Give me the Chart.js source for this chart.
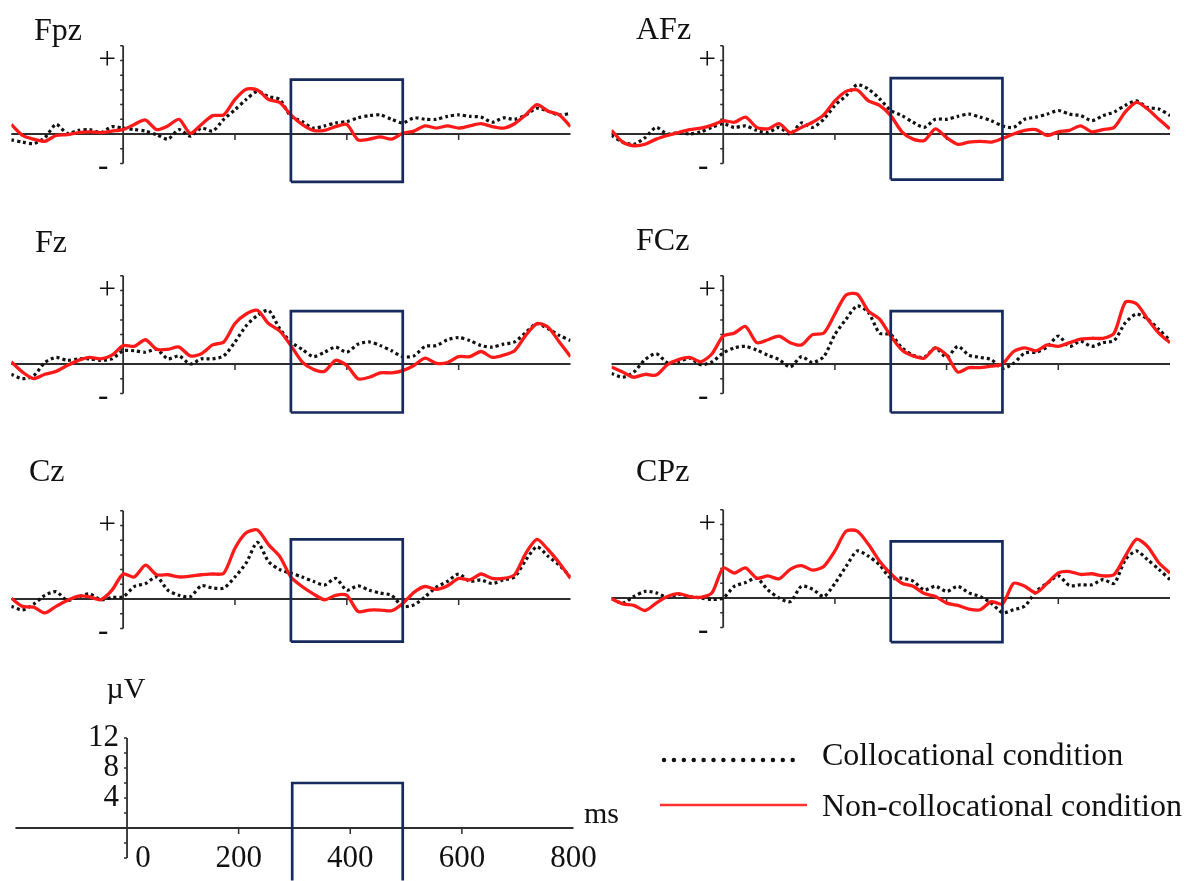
<!DOCTYPE html>
<html lang="en">
<head>
<meta charset="UTF-8">
<title>ERP waveforms</title>
<script src="https://cdn.jsdelivr.net/npm/chart.js@4"></script>
<style>
  body { margin: 0; background: #fff; }
  #page { position: relative; width: 1186px; height: 881px; overflow: hidden; }
  #page canvas { position: absolute; }
</style>
</head>
<body>
<div id="page"></div>
<script>
// time points in ms
const times = [-200, -180, -160, -140, -120, -100, -80, -60, -40, -20,
  0, 20, 40, 60, 80, 100, 120, 140, 160, 180,
  200, 220, 240, 260, 280, 300, 320, 340, 360, 380,
  400, 420, 440, 460, 480, 500, 520, 540, 560, 580,
  600, 620, 640, 660, 680, 700, 720, 740, 760, 780, 800];

// amplitudes in µV
const fpzColl = [-0.8, -1.1, -1.3, -0.5, 1.3, 0.1, 0.5, 0.6, 0.2, 1.0,
  0.8, 0.6, 0.4, -0.1, -0.7, 0.6, -0.3, 0.8, 0.4, 2.0,
  3.3, 4.7, 5.8, 5.1, 4.7, 2.4, 1.7, 0.8, 1.1, 1.5,
  1.7, 2.2, 2.5, 2.6, 2.0, 1.5, 2.2, 2.0, 2.0, 2.4,
  2.6, 2.4, 2.3, 1.6, 2.2, 2.0, 2.6, 3.5, 3.1, 2.6, 2.8];
const fpzNon = [1.3, -0.2, -0.7, -1.0, -0.2, -0.1, 0.2, 0.3, 0.2, 0.4,
  0.6, 1.3, 1.9, 0.6, 1.1, 2.0, 0.1, 1.3, 2.5, 2.6,
  4.7, 6.1, 6.0, 4.7, 4.3, 2.6, 1.3, 0.5, 0.5, 1.0,
  1.3, -0.8, -0.7, -0.4, -0.7, 0.1, 0.4, 1.1, 0.8, 1.1,
  0.8, 1.1, 1.4, 1.0, 0.8, 1.4, 2.6, 4.0, 3.1, 2.6, 1.0];

const afzColl = [-0.2, -1.1, -1.4, -0.5, 0.9, 0.0, 0.2, 0.0, 0.3, 0.9,
  1.4, 0.9, 1.1, 0.5, 0.2, 0.9, 0.0, 1.5, 0.9, 2.0,
  3.9, 5.2, 6.7, 6.1, 4.8, 3.2, 2.5, 1.6, 0.9, 2.0,
  2.0, 2.4, 2.7, 2.3, 1.8, 1.1, 0.9, 2.0, 2.3, 2.7,
  3.2, 2.7, 2.5, 1.8, 2.5, 3.0, 3.9, 4.5, 3.6, 3.4, 2.5];
const afzNon = [0.5, -1.1, -1.6, -1.4, -0.7, -0.2, 0.2, 0.6, 0.8, 1.2,
  1.8, 1.6, 2.3, 0.9, 0.7, 1.4, 0.2, 0.9, 1.6, 2.6,
  4.5, 5.8, 6.0, 4.5, 3.9, 2.5, 0.3, -0.7, -0.9, 0.7,
  -0.5, -1.4, -1.1, -1.0, -1.1, -0.6, 0.0, 0.5, 0.6, -0.2,
  0.3, 0.5, 1.1, 0.3, 0.6, 0.9, 3.0, 4.3, 3.4, 2.0, 0.7];

const fzColl = [-1.4, -2.0, -1.6, 0.2, 0.9, 0.5, 0.7, 0.7, 0.5, 0.7,
  1.8, 1.8, 1.6, 2.0, 0.7, 1.1, 0.0, 0.7, 0.7, 1.1,
  3.0, 5.2, 6.6, 7.3, 4.8, 3.0, 2.0, 1.0, 1.6, 2.3,
  1.6, 2.7, 3.0, 2.5, 1.8, 1.0, 1.1, 2.4, 2.5, 3.3,
  3.6, 3.2, 2.5, 2.3, 2.7, 3.0, 4.3, 5.5, 4.8, 3.9, 3.2];
const fzNon = [0.3, -1.1, -2.0, -1.4, -1.0, -0.2, 0.5, 0.9, 0.7, 1.2,
  2.5, 2.4, 3.3, 2.0, 2.0, 2.3, 1.1, 1.4, 2.6, 3.0,
  5.5, 6.8, 7.3, 5.5, 4.5, 2.5, 0.3, -0.7, -1.0, 0.5,
  -0.2, -2.0, -1.8, -1.2, -1.2, -0.9, -0.2, 0.8, 0.1, 0.2,
  1.0, 1.0, 1.7, 0.9, 1.2, 1.8, 3.9, 5.5, 5.0, 3.0, 1.0];

const fczColl = [-1.3, -1.8, -1.1, 0.6, 1.4, 0.2, 0.3, 0.8, -0.1, 0.3,
  1.5, 2.2, 2.4, 1.9, 1.2, 0.6, -0.4, 1.0, 0.2, 1.0,
  4.0, 6.1, 7.9, 7.0, 4.2, 4.0, 2.2, 1.2, 0.9, 2.2,
  0.9, 2.4, 1.2, 0.9, 0.6, -0.6, 0.1, 1.5, 1.6, 2.3,
  3.8, 2.4, 3.1, 2.4, 2.9, 3.2, 5.6, 6.8, 6.1, 4.7, 3.2];
const fczNon = [-0.4, -1.1, -1.8, -1.4, -1.5, -0.1, 0.6, 0.9, 0.3, 1.4,
  3.8, 4.2, 5.1, 2.9, 3.3, 3.8, 2.9, 2.6, 4.0, 4.2,
  6.8, 9.4, 9.5, 7.2, 6.1, 3.8, 1.9, 1.1, 0.8, 2.2,
  1.2, -1.1, -0.5, -0.5, -0.3, 0.0, 1.7, 2.2, 1.8, 2.6,
  2.4, 2.9, 3.4, 3.5, 3.5, 4.2, 8.4, 8.2, 6.1, 4.2, 2.9];

const czColl = [-1.0, -1.5, -0.7, 0.5, 1.0, -0.2, 0.3, 0.7, -0.1, 0.2,
  0.3, 1.7, 2.1, 3.0, 1.2, 0.5, 0.3, 1.8, 1.5, 1.5,
  3.0, 4.9, 7.7, 5.1, 4.0, 3.5, 3.0, 2.4, 1.9, 2.8,
  1.2, 1.8, 1.2, 0.8, 0.5, -1.0, -0.8, 0.3, 1.6, 2.4,
  3.4, 2.4, 2.6, 2.1, 2.6, 3.0, 5.3, 7.1, 5.8, 4.6, 3.0];
const czNon = [0.1, -1.0, -1.1, -1.9, -1.0, -0.2, 0.4, 0.3, -0.1, 1.2,
  3.4, 3.0, 4.6, 3.3, 3.3, 3.0, 3.1, 3.3, 3.4, 3.5,
  6.9, 9.0, 9.4, 7.4, 5.8, 3.0, 1.7, 0.7, -0.1, 0.5,
  0.5, -1.7, -1.5, -1.5, -1.6, -0.6, 0.9, 1.7, 1.3, 1.8,
  2.8, 2.6, 3.4, 2.8, 2.8, 3.3, 6.2, 8.1, 6.7, 4.9, 2.8];

const cpzColl = [-0.1, -0.7, 0.2, 0.9, 0.7, 0.1, 0.5, 0.2, 0.0, -0.2,
  0.0, 1.6, 2.1, 2.7, 1.1, 0.0, -0.5, 1.6, 1.2, 0.2,
  2.0, 4.3, 6.4, 5.7, 4.5, 2.7, 2.7, 2.3, 1.1, 1.6,
  0.9, 1.6, 0.7, 0.2, -0.7, -2.0, -1.6, -1.1, 0.9, 2.0,
  3.0, 1.7, 1.8, 1.8, 2.5, 2.0, 5.2, 6.4, 5.2, 3.9, 2.5];
const cpzNon = [-0.1, -0.8, -1.0, -1.7, -0.7, 0.2, 0.6, 0.2, 0.1, 0.7,
  4.1, 3.4, 4.1, 2.7, 3.0, 2.6, 3.9, 4.4, 3.8, 4.3,
  6.4, 9.1, 9.1, 7.3, 5.0, 3.3, 2.0, 1.6, 0.6, 0.2,
  -0.7, -1.0, -1.5, -1.6, -0.5, -0.8, 2.0, 1.6, 0.7, 2.0,
  3.4, 3.6, 3.2, 3.3, 3.0, 3.2, 5.7, 8.0, 7.0, 4.8, 3.4];

const electrodes = ['Fpz', 'AFz', 'Fz', 'FCz', 'Cz', 'CPz'];
const collSeries = [fpzColl, afzColl, fzColl, fczColl, czColl, cpzColl];
const nonSeries = [fpzNon, afzNon, fzNon, fczNon, czNon, cpzNon];

// analysis window (ms) and its box edges (µV) per panel
const windowMs = [300, 500];
const boxHigh = [7.4, 7.6, 7.2, 7.2, 8.1, 7.7];
const boxLow = [-6.5, -6.2, -6.6, -6.6, -5.8, -6.0];

// calibration panel
const scaleWindowMs = [296, 494];
const scaleYTicks = [4, 8, 12];
const scaleXTicks = [0, 200, 400, 600, 800];
const legendLabels = ['Collocational condition', 'Non-collocational condition'];

const RED = '#ff1a1a';
const NAVY = '#172a5e';
const SERIF = '"Liberation Serif", "Times New Roman", serif';

const page = document.getElementById('page');

const axesPlugin = {
  id: 'erpAxes',
  beforeDatasetsDraw(chart, args, opts) {
    const { ctx } = chart;
    const x = chart.scales.x, y = chart.scales.y;
    const x0 = x.getPixelForValue(0), y0 = y.getPixelForValue(0);
    ctx.save();
    ctx.strokeStyle = '#2e2e2e';
    ctx.lineWidth = 1.8;
    ctx.beginPath();
    ctx.moveTo(x.getPixelForValue(-200), y0);
    ctx.lineTo(x.getPixelForValue(800), y0);
    ctx.moveTo(x0, y.getPixelForValue(-4));
    ctx.lineTo(x0, y.getPixelForValue(12));
    ctx.stroke();
    ctx.lineWidth = 1.5;
    ctx.beginPath();
    for (let v = -4; v <= 12; v += 2) {
      const py = y.getPixelForValue(v);
      ctx.moveTo(x0 - 3, py);
      ctx.lineTo(x0, py);
    }
    [200, 400, 600].forEach(t => {
      const px = x.getPixelForValue(t);
      ctx.moveTo(px, y0);
      ctx.lineTo(px, y0 + 6);
    });
    ctx.stroke();
    ctx.restore();
  },
  afterDraw(chart, args, opts) {
    const { ctx } = chart;
    const x = chart.scales.x, y = chart.scales.y;
    const x0 = x.getPixelForValue(0), y0 = y.getPixelForValue(0);
    ctx.save();
    ctx.fillStyle = '#111';
    if (!opts.calibration) {
      ctx.font = '32px ' + SERIF;
      ctx.textAlign = 'left';
      ctx.textBaseline = 'alphabetic';
      ctx.fillText(opts.title, opts.titleX, opts.titleY);
      ctx.font = '31px ' + SERIF;
      ctx.textAlign = 'center';
      ctx.textBaseline = 'middle';
      ctx.fillText('+', x0 - 16, y.getPixelForValue(10));
      ctx.fillText('-', x0 - 20, y.getPixelForValue(-4) + 3);
    } else {
      ctx.font = '31px ' + SERIF;
      ctx.textBaseline = 'middle';
      ctx.textAlign = 'right';
      scaleYTicks.forEach(v => ctx.fillText(String(v), x0 - 8, y.getPixelForValue(v)));
      ctx.textAlign = 'center';
      scaleXTicks.forEach(t => {
        const px = t === 0 ? x0 + 16 : x.getPixelForValue(t);
        ctx.fillText(String(t), px, y0 + 31);
      });
      ctx.font = '30px ' + SERIF;
      ctx.fillText('\u00b5V', x0 - 1, y0 - 138);
      ctx.fillText('ms', x.getPixelForValue(800) + 28, y0 - 13);

      // legend
      ctx.font = '32px ' + SERIF;
      ctx.textAlign = 'left';
      ctx.fillText(legendLabels[0], 822, 97);
      ctx.fillText(legendLabels[1], 822, 148);
      ctx.lineWidth = 4.5;
      ctx.strokeStyle = '#111';
      ctx.lineCap = 'round';
      ctx.setLineDash([0, 9.9]);
      ctx.beginPath();
      ctx.moveTo(664, 100);
      ctx.lineTo(802, 100);
      ctx.stroke();
      ctx.setLineDash([]);
      ctx.lineCap = 'butt';
      ctx.lineWidth = 2.5;
      ctx.strokeStyle = '#ff3030';
      ctx.beginPath();
      ctx.moveTo(660, 145);
      ctx.lineTo(807, 145);
      ctx.stroke();
    }
    ctx.restore();
  }
};

function xy(vals) {
  return times.map((t, i) => ({ x: t, y: vals[i] }));
}

function boxData(win, hi, lo) {
  return [
    { x: win[0], y: lo }, { x: win[0], y: hi },
    { x: win[1], y: hi }, { x: win[1], y: lo }, { x: win[0], y: lo }
  ];
}

// g: canvas box and where -200/800 ms and 0 µV fall on the page
function makeChart(g, datasets, pluginOpts) {
  const cv = document.createElement('canvas');
  cv.width = g.w; cv.height = g.h;
  cv.style.left = g.left + 'px';
  cv.style.top = g.top + 'px';
  cv.style.width = g.w + 'px';
  cv.style.height = g.h + 'px';
  page.appendChild(cv);
  const k = g.k, ymax = 13, ymin = g.ymin;
  const pad = {
    left: g.xStart - g.left,
    right: g.left + g.w - g.xEnd,
    top: g.zero - g.top - ymax * k,
    bottom: g.top + g.h - (g.zero - ymin * k)
  };
  return new Chart(cv, {
    type: 'line',
    data: { datasets },
    options: {
      responsive: false,
      animation: false,
      events: [],
      layout: { padding: pad },
      plugins: { legend: { display: false }, tooltip: { enabled: false }, erpAxes: pluginOpts },
      scales: {
        x: { type: 'linear', display: false, min: -200, max: 800 },
        y: { type: 'linear', display: false, min: ymin, max: ymax }
      }
    },
    plugins: [axesPlugin]
  });
}

const geoms = [
  { left: 0, top: 0, w: 600, h: 215, xStart: 11.3, xEnd: 570.5, zero: 134, tx: 34, ty: 40 },
  { left: 600, top: 0, w: 586, h: 215, xStart: 611.5, xEnd: 1170, zero: 134, tx: 636, ty: 39 },
  { left: 0, top: 215, w: 600, h: 230, xStart: 11.3, xEnd: 570.5, zero: 364, tx: 35, ty: 252 },
  { left: 600, top: 215, w: 586, h: 230, xStart: 611.5, xEnd: 1170, zero: 364, tx: 636, ty: 250 },
  { left: 0, top: 445, w: 600, h: 215, xStart: 11.3, xEnd: 570.5, zero: 599, tx: 29, ty: 481 },
  { left: 600, top: 445, w: 586, h: 215, xStart: 611.5, xEnd: 1170, zero: 598, tx: 636, ty: 481 }
];

electrodes.forEach((name, i) => {
  const g = Object.assign({ k: 7.35, ymin: -8 }, geoms[i]);
  makeChart(g, [
    { data: boxData(windowMs, boxHigh[i], boxLow[i]), borderColor: NAVY, borderWidth: 2.7, pointRadius: 0, tension: 0 },
    { data: xy(nonSeries[i]), borderColor: RED, borderWidth: 3.3, pointRadius: 0, tension: 0.25 },
    { data: xy(collSeries[i]), borderColor: '#111', borderWidth: 3.2, borderDash: [3, 3],
      pointRadius: 0, tension: 0.25 }
  ], { title: name, titleX: g.tx - g.left, titleY: g.ty - g.top });
});

// calibration panel with legend
makeChart(
  { left: 0, top: 660, w: 1186, h: 221, xStart: 15.4, xEnd: 573.5, zero: 828, k: 7.5, ymin: -7 },
  [{ data: boxData(scaleWindowMs, 6, -8), borderColor: NAVY, borderWidth: 2.7, pointRadius: 0, tension: 0 }],
  { calibration: true }
);
</script>
</body>
</html>
